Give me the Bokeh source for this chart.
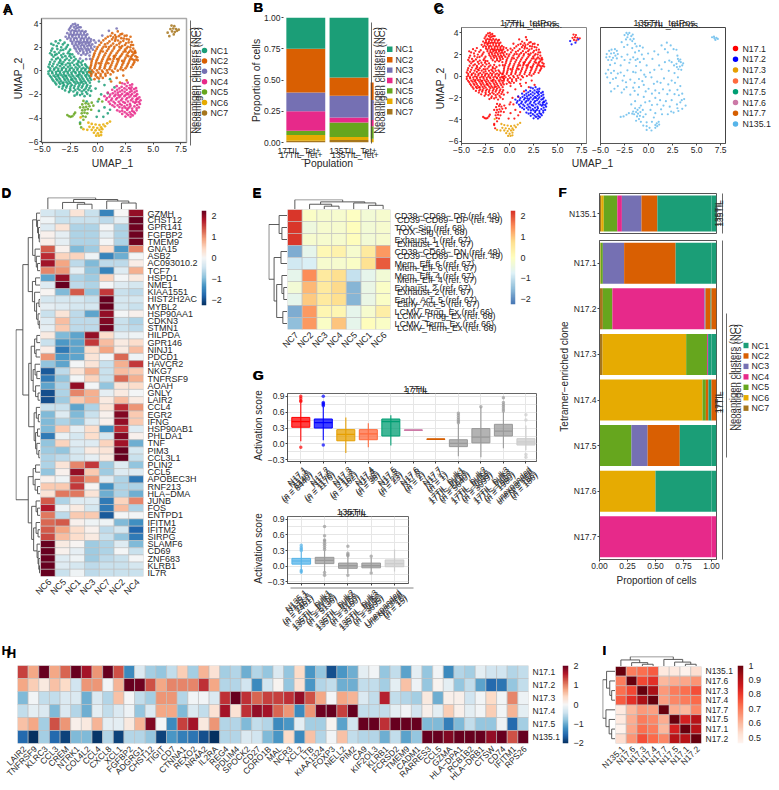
import math
import numpy as np
from bokeh.embed import file_html
from bokeh.resources import INLINE
from bokeh.layouts import column
from bokeh.models import ColumnDataSource, FactorRange, FixedTicker, Label, LinearColorMapper, Range1d
from bokeh.plotting import figure
from bokeh.transform import transform

FONT = "Liberation Sans"
NC_NAMES = ["NC1", "NC2", "NC3", "NC4", "NC5", "NC6", "NC7"]
NC_COLORS = ["#1B9E77", "#D95F02", "#7570B3", "#E7298A", "#66A61E", "#E6AB02", "#A6761D"]

# ---------- UMAP points ----------
NC1_POINTS = [(-4.2,2.3),(-3.8,2.5),(-3.4,2.6),(-3.0,2.4),(-2.7,2.2),(-4.1,1.9),(-3.7,2.1),(-3.3,2.0),(-2.9,1.9),(-2.5,1.8),
(-4.3,1.5),(-3.9,1.6),(-3.5,1.55),(-3.1,1.45),(-2.7,1.5),(-2.3,1.4),(-4.0,1.2),(-3.6,1.1),(-3.2,1.15),(-2.8,1.05),(-2.4,1.1),(-2.0,1.0),
(-4.3,0.75),(-3.9,0.8),(-3.5,0.7),(-3.1,0.75),(-2.7,0.65),(-2.3,0.7),(-1.9,0.6),(-1.5,0.7),(-4.45,0.35),(-4.1,0.4),(-3.75,0.3),(-3.4,0.4),
(-3.05,0.3),(-2.7,0.35),(-2.35,0.25),(-2.0,0.3),(-1.65,0.35),(-1.3,0.25),(-0.95,0.3),(-4.3,0.05),(-3.95,0.1),(-3.6,0.0),(-3.25,0.08),(-2.9,-0.02),
(-2.55,0.05),(-2.2,-0.03),(-1.85,0.07),(-1.5,-0.02),(-1.15,0.04),(-0.8,-0.03),(-4.45,-0.25),(-4.1,-0.2),(-3.75,-0.28),(-3.4,-0.2),(-3.05,-0.3),(-2.7,-0.22),
(-2.35,-0.3),(-2.0,-0.2),(-1.65,-0.28),(-1.3,-0.2),(-0.95,-0.3),(-0.6,-0.22),(-4.2,-0.55),(-3.85,-0.5),(-3.5,-0.58),(-3.15,-0.5),(-2.8,-0.6),(-2.45,-0.52),
(-2.1,-0.6),(-1.75,-0.5),(-1.4,-0.58),(-1.05,-0.5),(-0.7,-0.6),(-4.0,-0.85),(-3.65,-0.8),(-3.3,-0.88),(-2.95,-0.8),(-2.6,-0.9),(-2.25,-0.82),(-1.9,-0.9),
(-1.55,-0.8),(-1.2,-0.88),(-0.85,-0.82),(-3.75,-1.15),(-3.4,-1.1),(-3.05,-1.2),(-2.7,-1.12),(-2.35,-1.2),(-2.0,-1.1),(-1.65,-1.18),(-1.3,-1.12),(-0.95,-1.2),
(-3.2,-1.5),(-2.85,-1.42),(-2.5,-1.5),(-2.15,-1.45),(-1.8,-1.5),(-1.45,-1.42),(-1.1,-1.5),(-0.75,-1.45),(-2.6,-1.8),(-2.2,-1.75),(-1.85,-1.85),(-1.45,-1.75),
(-1.05,-1.8),(-0.6,-1.7),(-2.1,-2.1),(-1.6,-2.05),(-1.2,-2.15),(-0.7,-2.1),(0.1,-0.9),(0.6,-1.2),(1.1,-0.7),(1.5,-1.4),(-0.2,-1.5),(0.3,-2.0),
(0.9,-1.9),(0.0,-2.6),(0.6,-3.1),(0.1,-3.4),(0.9,-3.6),(0.5,-3.9),(-0.1,-3.9),(1.1,-3.3),(-1.6,-4.4),(-1.0,-2.6),(-3.85,1.35),(-3.35,1.75),(-2.55,1.25),(-3.4,0.95),
(-2.5,0.45),(-3.2,0.55),(-1.75,0.85),(-1.15,0.55),(-2.85,-0.42),(-3.55,-0.35),(-1.9,-0.42),(-2.4,-0.75),(-3.1,-1.0),(-1.55,-1.0)]
NC1_MORE = [(-4.0,2.2),(-3.55,2.35),(-3.15,2.25),(-2.8,2.05),(-4.2,1.72),(-3.65,1.85),(-3.12,1.78),(-2.62,1.65),(-4.15,1.36),(-3.72,1.42),(-3.3,1.32),(-2.93,1.25),(-2.5,1.42),(-2.14,1.2),
(-4.15,0.97),(-3.76,1.0),(-3.37,0.83),(-2.96,0.92),(-2.57,0.9),(-2.16,0.88),(-1.74,0.72),(-1.36,0.86),(-4.36,0.56),(-4.0,0.6),(-3.64,0.52),(-3.28,0.62),(-2.9,0.52),(-2.52,0.63),(-2.14,0.5),(-1.78,0.48),(-1.44,0.5),(-1.06,0.43),
(-4.3,0.22),(-3.92,0.2),(-3.56,0.18),(-3.22,0.22),(-2.86,0.16),(-2.52,0.2),(-2.17,0.12),(-1.82,0.2),(-1.47,0.17),(-1.1,0.16),(-0.77,0.2),(-4.45,-0.05),(-4.12,-0.08),(-3.78,-0.1),(-3.42,-0.06),(-3.08,-0.12),(-2.72,-0.08),(-2.38,-0.14),
(-2.03,-0.1),(-1.68,-0.1),(-1.33,-0.12),(-0.98,-0.13),(-0.62,-0.05),(-4.32,-0.42),(-3.98,-0.4),(-3.62,-0.45),(-3.28,-0.36),(-2.93,-0.44),(-2.58,-0.38),(-2.22,-0.44),(-1.75,-0.35),(-1.48,-0.43),(-1.13,-0.38),(-0.78,-0.42),
(-4.1,-0.72),(-3.74,-0.68),(-3.4,-0.72),(-3.03,-0.66),(-2.7,-0.74),(-2.34,-0.68),(-1.98,-0.72),(-1.64,-0.66),(-1.3,-0.72),(-0.95,-0.67),(-0.6,-0.75),(-3.85,-1.0),(-3.5,-0.98),(-3.18,-1.04),(-2.82,-0.97),(-2.48,-1.04),(-2.12,-0.96),
(-1.77,-1.03),(-1.42,-0.95),(-1.08,-1.02),(-0.72,-1.0),(-3.5,-1.35),(-3.15,-1.32),(-2.8,-1.28),(-2.46,-1.33),(-2.1,-1.28),(-1.74,-1.33),(-1.38,-1.28),(-1.02,-1.34),(-0.66,-1.28),(-2.95,-1.66),(-2.48,-1.65),(-2.03,-1.62),(-1.65,-1.62),(-1.25,-1.64),(-0.85,-1.63),(-1.9,-2.0),(-1.4,-1.95),(-0.95,-1.95)]
NC2_POINTS = [(1.3,3.2),(1.8,3.35),(2.2,3.15),(2.6,3.0),(0.9,2.9),(1.4,2.85),(1.9,2.95),(2.35,2.75),(2.8,2.65),(3.05,2.45),(0.5,2.6),(1.05,2.5),(1.55,2.55),(2.05,2.45),
(2.55,2.35),(3.0,2.2),(0.15,2.2),(0.65,2.25),(1.2,2.15),(1.7,2.2),(2.2,2.1),(2.7,2.05),(3.2,1.9),(-0.1,1.85),(0.4,1.9),(0.95,1.85),(1.45,1.9),(1.95,1.8),(2.45,1.8),(2.95,1.75),
(3.4,1.55),(-0.3,1.5),(0.2,1.55),(0.7,1.5),(1.2,1.55),(1.7,1.5),(2.2,1.45),(2.7,1.5),(3.2,1.4),(3.55,1.15),(-0.4,1.2),(0.05,1.2),(0.5,1.15),(1.0,1.22),(1.5,1.15),(2.0,1.2),
(2.5,1.12),(3.0,1.18),(3.45,0.95),(-0.55,0.85),(-0.1,0.9),(0.35,0.82),(0.85,0.9),(1.35,0.82),(1.85,0.88),(2.35,0.8),(2.85,0.87),(3.3,0.75),(3.6,0.9),(-0.6,0.5),(-0.2,0.55),(0.25,0.48),
(0.7,0.55),(1.2,0.48),(1.7,0.55),(2.2,0.5),(2.7,0.55),(3.15,0.5),(-0.7,0.2),(-0.3,0.22),(0.15,0.17),(0.6,0.22),(1.05,0.15),(1.55,0.2),(2.05,0.15),(2.5,0.22),(-0.75,-0.12),(-0.4,-0.1),
(0.05,-0.15),(0.45,-0.1),(0.9,-0.15),(1.4,-0.1),(-0.6,-0.42),(-0.2,-0.4),(0.25,-0.45),(0.7,-0.42),(-0.3,-0.7),(0.1,-0.65),(1.2,-0.9),(1.7,-0.6),(2.3,-0.4),(2.0,-1.0),(2.6,-0.8),
(1.6,2.7),(2.95,2.9),(2.5,1.65),(1.45,1.25),(0.95,0.65),(3.35,1.7),(2.2,0.85),(0.45,1.65),(0.75,2.05),(1.95,2.05),(2.75,1.25),(3.1,1.0),(1.75,1.0),(1.1,1.0),(0.1,0.65)]
NC2_MORE = [(1.55,3.05),(2.05,3.1),(2.42,2.98),(1.15,2.98),(1.65,2.88),(2.12,2.78),(2.6,2.7),(0.7,2.75),(1.28,2.68),(1.82,2.58),(2.3,2.55),(2.78,2.42),(3.18,2.2),(0.3,2.4),(0.88,2.35),(1.38,2.32),(1.93,2.32),(2.45,2.2),(2.92,2.0),
(-0.02,2.02),(0.52,2.05),(1.03,2.02),(1.5,2.05),(2.08,1.95),(2.6,1.92),(3.1,1.62),(-0.22,1.68),(0.28,1.72),(0.82,1.7),(1.32,1.72),(1.82,1.65),(2.32,1.62),(2.82,1.62),(3.3,1.55),(-0.35,1.35),(0.12,1.38),(0.6,1.32),(1.1,1.38),(1.6,1.32),(2.1,1.3),(2.6,1.32),(3.08,1.3),(3.4,1.25),
(-0.48,1.02),(-0.02,1.05),(0.42,0.98),(0.92,1.05),(1.42,1.02),(1.92,1.05),(2.42,0.96),(2.92,1.02),(3.25,0.92),(-0.58,0.68),(-0.15,0.72),(0.3,0.65),(0.78,0.72),(1.28,0.65),(1.78,0.72),(2.28,0.65),(2.78,0.7),(3.22,0.62),(-0.65,0.36),(-0.25,0.38),(0.2,0.32),(0.65,0.38),(1.12,0.32),(1.62,0.38),(2.12,0.32),(2.62,0.38),(3.02,0.32),
(-0.52,0.04),(-0.08,0.04),(0.38,0.02),(0.82,0.04),(1.28,0.02),(1.8,0.02),(2.28,0.06),(-0.58,-0.26),(-0.18,-0.26),(0.25,-0.28),(0.68,-0.26),(1.15,-0.3),(-0.05,-0.55),(0.45,-0.6)]
NC3_POINTS = [(-2.05,4.0),(-1.8,3.9),(-2.4,3.8),(-2.15,3.7),(-1.85,3.65),(-1.55,3.7),(-2.6,3.5),(-2.3,3.45),(-2.0,3.4),(-1.7,3.45),(-1.4,3.4),(-1.1,3.35),(-2.75,3.2),(-2.45,3.15),(-2.15,3.2),
(-1.85,3.12),(-1.55,3.15),(-1.25,3.1),(-0.95,3.1),(-2.9,2.9),(-2.6,2.85),(-2.3,2.9),(-2.0,2.82),(-1.7,2.88),(-1.4,2.8),(-1.1,2.85),(-0.8,2.8),(-2.45,2.55),(-2.15,2.6),(-1.85,2.52),(-1.55,2.58),
(-1.25,2.5),(-0.95,2.55),(-0.65,2.5),(-0.35,2.6),(-2.3,2.3),(-2.0,2.25),(-1.7,2.3),(-1.4,2.22),(-1.1,2.28),(-0.8,2.2),(-0.5,2.25),(-0.2,2.4),(-2.1,1.95),(-1.8,2.0),(-1.5,1.92),(-1.2,1.98),
(-0.9,1.9),(-0.6,1.95),(-0.3,2.05),(0.1,2.55),(0.4,3.0),(-1.9,1.65),(-1.6,1.7),(-1.3,1.62),(-1.0,1.68),(-0.7,1.6),(-1.5,1.35),(-1.1,1.38),(-0.75,1.3),(-1.6,1.05),(-1.05,1.0),(-0.7,1.02),
(-1.7,3.05),(-1.25,2.7),(-2.2,3.05),(-1.55,2.4),(-0.9,2.4),(1.7,3.6),(1.0,3.4)]
NC3_MORE = [(-2.25,3.95),(-1.98,3.82),(-2.5,3.65),(-2.0,3.58),(-1.7,3.7),(-2.45,3.33),(-2.12,3.38),(-1.85,3.32),(-1.55,3.32),(-1.22,3.28),(-2.58,3.05),(-2.32,3.02),(-2.0,3.05),(-1.42,3.0),(-1.08,3.0),(-2.75,2.72),(-2.45,2.72),(-2.15,2.75),(-1.88,2.72),(-1.55,2.72),(-0.95,2.68),(-0.62,2.68),
(-2.3,2.45),(-2.0,2.42),(-1.72,2.45),(-1.38,2.4),(-1.1,2.42),(-0.75,2.38),(-2.15,2.12),(-1.85,2.15),(-1.55,2.12),(-1.25,2.12),(-0.95,2.1),(-0.65,2.12),(-1.98,1.82),(-1.68,1.85),(-1.38,1.8),(-1.08,1.82),(-0.78,1.78),(-0.45,1.8),(-1.75,1.48),(-1.3,1.48),(-0.95,1.5)]
NC4_POINTS = [(2.2,-1.05),(2.7,-1.0),(3.1,-1.15),(1.7,-1.3),(2.15,-1.35),(2.6,-1.3),(3.05,-1.4),(3.45,-1.45),(1.3,-1.6),(1.75,-1.6),(2.2,-1.65),(2.6,-1.6),(3.05,-1.7),(3.5,-1.7),(0.9,-1.85),
(1.35,-1.9),(1.8,-1.85),(2.2,-1.95),(2.65,-1.9),(3.1,-1.95),(3.55,-1.98),(0.6,-2.15),(1.05,-2.2),(1.5,-2.15),(1.95,-2.22),(2.4,-2.15),(2.85,-2.22),(3.3,-2.15),(3.75,-2.25),(0.75,-2.45),(1.2,-2.5),
(1.65,-2.42),(2.1,-2.5),(2.55,-2.43),(3.0,-2.5),(3.45,-2.45),(3.85,-2.5),(1.1,-2.8),(1.55,-2.75),(2.0,-2.8),(2.45,-2.72),(2.9,-2.8),(3.35,-2.72),(3.8,-2.8),(1.5,-3.05),(1.95,-3.08),(2.4,-3.02),
(2.85,-3.1),(3.3,-3.02),(3.7,-3.1),(1.75,-3.35),(2.2,-3.38),(2.65,-3.32),(3.1,-3.4),(3.5,-3.35),(2.2,-3.65),(2.6,-3.62),(3.0,-3.68),(3.35,-3.6),(2.5,-3.88),(2.95,-3.9),(2.75,-2.0),(2.3,-2.65),
(3.2,-2.62),(1.85,-2.05),(2.95,-1.55),(2.5,-3.15),(3.55,-2.35),(2.15,-2.9),(3.1,-3.2)]
NC4_MORE = [(2.42,-1.12),(2.9,-1.22),(1.95,-1.48),(2.4,-1.48),(2.82,-1.45),(3.28,-1.55),(1.55,-1.75),(2.0,-1.75),(2.42,-1.78),(2.88,-1.8),(3.32,-1.82),(1.12,-2.02),(1.6,-2.02),(2.05,-2.08),(2.52,-2.03),(2.98,-2.08),(3.45,-2.1),(0.82,-2.3),(1.28,-2.35),(1.75,-2.3),(2.2,-2.35),(2.65,-2.3),(3.12,-2.35),(3.58,-2.38),
(0.98,-2.62),(1.42,-2.62),(1.88,-2.62),(2.72,-2.6),(3.48,-2.62),(3.7,-2.65),(1.32,-2.92),(1.78,-2.92),(2.65,-2.9),(2.95,-2.95),(3.55,-2.9),(2.22,-3.15),(2.7,-3.2),(3.5,-3.18),(1.98,-3.45),(2.42,-3.5),(2.88,-3.52),(3.25,-3.48),(2.75,-3.75),(3.15,-3.78)]
NC5_POINTS = [(-2.75,-3.75),(-2.6,-3.85),(-2.45,-3.9),(-2.3,-3.85),(-2.15,-3.7),(-2.05,-3.55),(-1.4,-2.85),(-1.1,-2.75),(-0.85,-2.8),(-0.55,-2.7),(-1.3,-3.1),(-1.05,-3.05),(-0.75,-3.0),(-0.4,-2.95),
(-1.4,-3.35),(-1.15,-3.3),(-0.9,-3.25),(-0.6,-3.3),(-1.45,-3.6),(-1.2,-3.55),(-0.95,-3.6),(-1.35,-3.85),(-1.1,-3.9),(-1.3,-4.15),(-1.6,-4.5),(-1.5,-4.8),(0.1,-2.4),(0.4,-2.6),(-1.3,-2.55),(-1.6,-3.1)]
NC6_POINTS = [(-0.85,-4.4),(-0.55,-4.5),(-0.2,-4.55),(0.15,-4.6),(0.5,-4.55),(0.85,-4.45),(1.1,-4.3),(-0.75,-4.75),(-0.4,-4.8),(-0.05,-4.85),(0.3,-4.8),(0.65,-4.7),(-0.55,-5.0),(-0.2,-5.05),(0.15,-5.0),
(0.4,-4.95),(-0.35,-5.25),(0.0,-5.3),(0.3,-5.2),(-0.15,-5.5),(0.1,-5.5),(0.3,-5.45),(-0.95,-5.0),(-1.3,-4.95),(-1.55,-3.95)]
NC7_POINTS = [(6.65,3.85),(6.9,3.8),(6.55,3.55),(6.8,3.6),(7.05,3.55),(7.3,3.5),(6.7,3.35),(6.95,3.3),(7.15,3.4),(6.85,3.1),(6.3,3.25),(6.45,2.95)]
N135_POINTS = [(-2.3,4.0),(-2.0,4.0),(-1.8,3.7),(-2.5,3.8),(-2.2,3.6),(-1.9,3.4),(-1.55,3.45),(-2.8,3.15),(-1.4,3.0),(-2.2,2.9),(-0.9,2.8),(-1.7,2.6),(-3.5,2.5),(-4.1,2.35),(-4.35,2.05),(-3.9,2.1),(-3.6,2.15),(-3.2,2.05),
(-4.4,1.75),(-4.05,1.8),(-3.7,1.7),(-3.3,1.65),(-2.8,1.8),(-2.2,2.0),(-1.4,2.2),(-1.0,2.35),(-0.7,2.0),(-1.15,1.6),(-1.6,1.75),(-0.9,1.3),(-1.3,0.95),(-2.0,1.25),(-2.9,1.0),(-3.5,1.2),(-4.0,1.05),(-4.2,0.6),
(-3.6,0.5),(-2.9,0.35),(-2.2,0.55),(-1.6,0.4),(-0.8,0.55),(-0.2,1.0),(0.4,1.6),(1.0,2.0),(1.7,2.5),(1.9,3.1),(2.3,2.85),(2.6,2.5),(3.0,1.9),(3.15,1.4),(3.35,1.3),(3.5,1.0),(3.25,0.9),(2.95,0.85),(3.1,0.65),(3.4,0.6),
(2.9,1.15),(2.4,1.3),(1.7,1.3),(1.1,1.0),(0.6,0.6),(2.1,0.5),(2.7,0.3),(3.05,-0.1),(2.4,-0.4),(1.6,-0.2),(0.9,-0.5),(0.3,-0.1),(-0.3,-0.05),(-1.0,-0.25),(-1.9,-0.3),(-2.7,-0.4),(-3.4,-0.15),(-4.3,-0.1),(-4.0,-0.6),
(-3.2,-0.9),(-2.3,-1.0),(-1.6,-1.05),(-1.0,-1.0),(-0.5,-0.8),(0.0,-1.15),(0.7,-1.3),(1.5,-1.2),(2.2,-1.3),(3.0,-1.25),(3.5,-1.6),(3.7,-2.1),(3.3,-2.4),(3.85,-2.7),(3.5,-3.0),(3.1,-3.2),(2.6,-3.35),(2.2,-2.8),(1.8,-2.3),
(1.2,-2.2),(0.7,-2.0),(0.1,-2.3),(-0.5,-1.9),(-1.1,-1.7),(-1.9,-1.7),(-3.9,-1.4),(-2.8,-1.5),(-1.8,-2.6),(-0.8,-2.7),(-1.4,-2.95),(-1.15,-3.1),(-0.95,-2.9),(-1.3,-3.3),(-1.1,-3.45),(-0.85,-3.3),(-1.5,-3.5),(-1.2,-3.7),
(-0.9,-3.65),(-1.6,-3.25),(-2.9,-3.75),(-2.6,-3.7),(-2.3,-3.55),(-2.05,-3.4),(-1.3,-4.1),(-0.8,-4.2),(-0.3,-3.5),(0.2,-3.1),(0.7,-3.4),(1.4,-3.5),(2.0,-3.5),(0.85,-4.35),(0.9,-4.6),(1.1,-4.45),(0.7,-4.5),(-0.2,-4.6),(0.3,-5.0),(-0.2,-4.95),
(6.6,3.6),(6.85,3.5),(7.05,3.55),(6.95,3.35),(7.2,3.45),(6.8,3.65)]
N135_MORE = [(-2.15,3.85),(-1.65,3.85),(-2.35,3.4),(-1.7,3.25),(-2.55,2.7),(-1.25,2.75),(-0.6,2.65),(-3.85,2.45),(-3.3,2.35),(-4.2,1.5),(-3.85,1.5),(-3.45,1.9),(-2.5,1.5),(-1.9,1.55),(-1.35,1.5),(-0.5,1.6),(-0.05,2.1),(0.6,2.3),(1.35,2.85),(2.0,2.2),(2.9,2.45),(3.05,1.6),(3.3,1.55),(3.6,1.2),(2.65,1.0),(2.15,1.45),
(1.35,0.65),(0.15,0.35),(-0.45,0.15),(-1.35,0.35),(-2.55,0.05),(-3.2,0.25),(-3.9,0.3),(-4.45,0.25),(-3.7,-0.25),(-2.35,-0.55),(-1.45,-0.6),(-0.65,-0.45),(0.55,-0.7),(1.25,-0.6),(2.05,-0.75),(2.75,-0.6),(3.3,-0.9),(-3.55,-1.15),(-2.55,-1.2),(-1.45,-1.35),(-0.3,-1.4),(0.35,-1.6),(1.1,-1.55),(1.95,-1.65),(2.7,-1.65),(3.15,-1.75),(3.45,-2.2),(2.95,-2.6),
(2.4,-2.2),(1.55,-2.7),(0.9,-2.6),(0.35,-2.65),(-0.35,-2.4),(-1.4,-2.3),(-0.6,-3.1),(-0.55,-3.75),(-1.7,-3.45),(-1.0,-3.95),(-0.2,-4.25),(0.35,-4.2),(0.55,-3.8),(1.3,-3.05),(2.35,-3.25),(3.0,-2.95),(1.05,-4.2),(0.7,-4.75),(0.1,-4.75),(-0.55,-4.55)]

# ---------- Panel B ----------
B_NC7 = [0.015, 0.020]; B_NC6 = [0.045, 0.025]; B_NC5 = [0.035, 0.115]; B_NC4 = [0.155, 0.040]
B_NC3 = [0.150, 0.175]; B_NC2 = [0.350, 0.145]; B_NC1 = [0.250, 0.480]
B_STRIP = [0.03, 0.10, 0.05, 0.16, 0.14]   # the narrow remnant at the right of the bars (NC6..NC2)
# ---------- Panel C legend ----------
CLONES = ["N17.1","N17.2","N17.3","N17.4","N17.5","N17.6","N17.7","N135.1"]
CLONE_COLORS = ["#FF0000","#0000FF","#E69F00","#FF6A3D","#009E73","#CC79A7","#D55E00","#56B4E9"]

# ---------- Panel D ----------
D_COLS = ["NC6","NC5","NC1","NC3","NC7","NC2","NC4"]
D_GENES = ["GZMH","CHST12","GPR141","FGFBP2","TMEM9","GNA15","ASB2","AC093010.2","TCF7","HSPD1","NME1","KIAA1551","HIST2H2AC","MYBL2","HSP90AA1","CDKN3","STMN1","HILPDA","GPR146","NINJ1","PDCD1","HAVCR2","NKG7","TNFRSF9","AOAH","GNLY","LAIR2","CCL4","EGR2","IFNG","HSP90AB1","PHLDA1","TNF","PIM3","CCL3L1","PLIN2","CCL5","APOBEC3H","RNF213","HLA\u2212DMA","JUNB","FOS","ENTPD1","IFITM1","IFITM2","SIRPG","SLAMF6","CD69","ZNF683","KLRB1","IL7R"]
D_VALUES = [[-.4,-.5,.3,-.5,-1.5,0,2.0],[-.1,-.5,-.5,-.5,-.6,-.2,2.3],[-.3,.3,-.7,-.7,-.05,-.7,2.2],[.1,-.2,-.7,-.7,-.2,-.7,2.2],[.15,-.2,-.7,-.7,-.05,-.7,2.2],
[1.4,.1,-1,-.8,.4,-1.3,1.1],[1.7,.5,.5,-.1,-1.5,-1.1,-.05],[1.9,.9,-.6,-1,-.6,-.6,.15],[1.1,1.0,-.2,-.9,-1.5,-.3,.8],[-1.2,2.0,-.7,-.8,.5,-.05,.2],
[-.3,2.4,-.6,-.7,-.05,-.3,-.4],[.05,-1,1.4,-.9,1.6,-.5,-.6],[-.4,-.4,-.4,-.5,2.4,-.4,-.4],[-.2,-.3,-.4,-.4,2.4,-.4,-.5],[-.5,.3,-.6,-1.2,2,-.05,.1],
[-.3,.7,-.6,-.6,2.1,-.5,-.7],[-.2,.6,-.6,-.6,2.2,-.5,-.6],[.2,-1,-1.2,2,.4,-.2,-.1],[-.5,-1.3,-1.2,1.6,.7,.2,.4],[.15,-1.6,-1.2,.4,.9,.2,.7],
[1,-1.3,-1.2,.3,-.05,1.3,-.1],[-.9,-1.2,-.05,.3,-.5,.8,1.6],[-1.9,-.6,.3,.8,-.5,.7,.6],[-1.6,-.9,-.05,.5,-.5,1.3,.8],[-1.2,-.7,2,-.05,-.9,.3,.4],
[-2,-.7,1.1,.8,-.2,.2,-.05],[-2,-.8,.6,.8,.2,.7,.2],[-.5,-.5,-1.2,-.7,.3,1.7,1.0],[-1,-.3,-1,-.5,.1,2.1,.6],[-1,-.7,-.9,-.3,.1,2,.6],
[-1,.6,-.2,.4,-1.4,1.7,-.3],[-1.6,-.15,-.4,.4,-.4,2.1,.1],[-.9,.5,-.3,-.3,.5,1.9,-1.1],[-.8,-.9,-.4,.2,.3,2.3,-.4],[-.7,-.6,-.4,-.2,.2,2.3,-.5],
[-.7,.3,1.1,1.6,-.8,-.3,-.9],[-.9,.1,2,.6,-.8,-.3,-.3],[.1,-.1,1.5,1,-.3,-.7,-1.6],[.6,.6,1.6,.05,-1.4,-.7,-.7],[.3,1.2,1.2,.3,-1.1,-.7,-1.1],
[1.4,-.7,-.3,-.3,-1.6,.5,1.1],[1.8,-.1,.2,-.4,-1.6,.7,-.7],[1.2,-.6,.6,.6,-1.9,-.05,-.05],[1.3,1.4,.1,-.1,-.1,-1,-1.4],[1.4,.9,.4,.1,-.6,-.4,-1.8],
[1.5,.7,.4,.2,-.5,-.9,-1.6],[2.3,.2,.05,-.8,-.7,-.3,-1],[2.3,.1,-.2,-.8,-.7,-.05,-.5],[2.4,-.3,-.1,-.8,-.6,-.5,-.05],[2.4,-.3,-.4,-.6,-.5,-.5,-.4],[2.4,-.5,-.1,-.6,-.5,-.5,-.5]]
L = 0
D_ROW_TREE = (1.0,(.72,(.5,(.32,(.16,L,(.12,L,(.08,L,(.05,L,L)))),(.22,L,(.17,L,(.12,L,L)))),(.33,(.2,L,L),(.24,L,(.16,(.06,L,L),(.1,L,(.05,L,L)))))),
 (.48,(.38,(.24,(.15,L,L),(.18,L,L)),(.3,(.22,L,(.15,L,L)),(.2,L,(.1,L,L)))),(.26,(.17,L,(.09,L,L)),(.2,(.12,L,L),(.15,L,(.07,L,L)))))),
 (.5,(.3,(.2,L,L),(.22,L,(.12,L,L))),(.36,(.18,L,(.12,L,L)),(.28,(.18,L,(.1,L,L)),(.14,L,(.1,L,(.07,L,(.04,L,L))))))))
D_COL_TREE = (1,L,(.85,(.6,L,(.45,L,L)),(.72,L,(.55,L,L))))

# ---------- Panel E ----------
E_COLS = ["NC7","NC2","NC3","NC4","NC5","NC1","NC6"]
E_SETS = ["CD39\u2212CD69\u2212 DP (ref. 49)","TOX\u2212Sig (ref. 68)","Exhaust_1 (ref. 67)","CD39\u2212CD69\u2212 DN (ref. 49)","Mem_Eff_6 (ref. 67)","Mem_Eff_4 (ref. 67)","Exhaust_2 (ref. 67)","Early_Act_5 (ref. 67)","LCMV_Prog_Ex (ref. 66)","LCMV_Term_Ex (ref. 66)"]
E_VALUES = [[2.2,-.1,-.2,-.2,-.05,-.3,-.2],[2.2,-.4,-.2,-.2,.05,-.3,-.2],[2.2,-.2,-.2,-.2,.05,-.3,-.2],[-1.7,-.6,.15,.3,-.2,.5,1.4],[-.9,-.8,-.2,-.2,-.1,.7,1.9],
[-.6,1.5,.5,.75,-1,-.6,-.3],[-.3,1.1,.5,.8,-1.6,-.5,-.1],[-.6,.95,.5,.75,-1.6,-.5,-.1],[-1.7,1.4,.2,.2,-.6,-.2,.4],[-1.5,1.4,-.1,1,-.6,.05,-.1]]
E_ROW_TREE = (1,(.45,L,(.3,L,L)),(.72,(.35,L,L),(.58,(.3,L,(.2,L,L)),(.25,L,L))))
E_COL_TREE = (1,L,(.8,(.58,L,(.4,L,L)),(.7,L,(.48,L,L))))

# ---------- Panel F (left to right: NC7, NC6, NC5, NC4, NC3, NC2, NC1) ----------
F_ORDER = [6,5,4,3,2,1,0]
F_N135_1 = [.015,.023,.121,.041,.175,.142,.483]
F_N17_1 = [.006,.004,.02,0,.19,.46,.32]
F_N17_2 = [.03,0,.085,.822,.01,.045,.008]
F_N17_3 = [.027,.747,.186,.008,.002,0,.03]
F_N17_4 = [0,.92,.03,0,0,.023,.027]
F_N17_5 = [0,0,.285,0,.145,.287,.283]
F_N17_6 = [0,.5,0,0,0,0,.5]
F_N17_7 = [0,0,0,1,0,0,0]
F_CLONES = ["N17.1","N17.2","N17.3","N17.4","N17.5","N17.6","N17.7"]
F_ROWS = [F_N17_1,F_N17_2,F_N17_3,F_N17_4,F_N17_5,F_N17_6,F_N17_7]
F_STRIP = [0,1,0,1,0,0,3]   # cluster index of the strip at the right of each bar

# ---------- Panel G (low, q1, median, q3, high) ----------
G1_NAMES = ["N17.1","N17.2","N17.3","N17.4","N17.5","N17.6","N17.7","17TIL_bulk1","17TIL_bulk2","17TIL_bulk3","unexpanded"]
G1_COUNTS = ["(n = 8440)","(n = 1176)","(n = 162)","(n = 38)","(n = 23)","(n = 2)","(n = 1)","(n = 5640)","(n = 3099)","(n = 1980)","(n = 186)"]
G1_LOW = [.05,.07,-.17,-.06,-.03,.26,.09,-.23,-.25,-.08,-.12]
G1_Q1 = [.315,.30,.06,.08,.15,.255,.085,-.05,.02,.15,-.02]
G1_MED = [.42,.40,.18,.19,.42,.26,.09,.01,.13,.24,.04]
G1_Q3 = [.50,.47,.27,.27,.47,.265,.095,.08,.29,.37,.10]
G1_HIGH = [.78,.70,.50,.39,.54,.26,.09,.38,.69,.60,.35]
G1_COLORS = ["#FF0000","#0000FF","#E69F00","#FF6A3D","#009E73","#CC79A7","#D55E00","#999999","#999999","#999999","#CCCCCC"]
G1_OUT = [[.80,.82,.86,.9,-.06],[.72,.74,.76,.78,.9,-.02],[],[],[],[],[],[.4,.43,.46,.5,.54,.58],[.7],[.62,.66,.7,.74,.78,.87],[.45,.55,-.2,-.25]]
G2_NAMES = ["N135.1","135TIL_bulk1","135TIL_bulk2","135TIL_bulk3","Unexpanded"]
G2_COUNTS = ["(n = 2461)","(n = 5136)","(n = 3160)","(n = 3695)","(n = 15)"]
G2_LOW = [-.14,-.1,-.14,-.1,-.1]
G2_Q1 = [.04,.05,-.04,-.03,-.01]
G2_MED = [.10,.11,.01,.01,.05]
G2_Q3 = [.15,.17,.06,.06,.12]
G2_HIGH = [.28,.3,.19,.16,.32]
G2_COLORS = ["#56B4E9","#999999","#999999","#999999","#CCCCCC"]
G2_OUT = [[.3,.33,.36,.4,-.08,-.11],[.32,.36,.4,.44,.48,.5,.58,.76,-.12,-.17],[.2,.22,.25,.38,-.17],[.19,-.13],[]]

# ---------- Panel H ----------
H_GENES = ["LAIR2","TNFRSF9","KLRC3","CCL3","CREM","NTRK1","COL4L2","CCL4","CXCL8","XCL1","FGFBP2","ADGRG1","CHST12","TIGIT","CD7","CTNNA1","REXO2","NR4A2","IL2RA","REG4","PDLIM4","SPOCK2","CD27","CORO1B","MAL","NCR3","XCL2","LTB","KIAA1324","FOXP3","NELL2","PIM2","CA9","KIF2OL3","KLRB1","FCRSD2","TMEM9","CADM1","RARRES3","CCL5","GZMA","HLA\u2212DPA1","RCB1B2","HLA\u2212DRB1","CTSW","CD74","IFITM1","RPS26"]
H_CLONES = ["N17.1","N17.2","N17.3","N17.4","N17.5","N135.1"]
H_N17_1 = [1.4,.8,2.4,.8,1.2,2.4,1.7,.9,2.4,1.3,-1.3,-.3,-.7,-.8,-.5,.5,-.7,.7,.3,-.7,-.6,-1,-.6,-.8,-.3,-.8,.4,-1.2,-.8,-1.8,-1.2,-1,-.2,-.05,-.8,-.5,-1.1,-.2,-.8,-.05,-1.3,-.6,-.7,-.2,-.4,-.4,-.6,-.5]
H_N17_2 = [.8,.5,.2,.6,.4,-.4,.9,.9,-.05,.7,2.1,2.0,1.3,.8,1,1,1,1.5,.8,-.6,-.6,-.4,-1.3,-.4,.05,-.8,.3,-1.2,-.6,-.5,-1,-1,-.5,-.5,-.7,-.2,.6,-.1,-.8,.05,-.2,-.8,-.5,-1.1,-1.6,-1.5,-.8,-.5]
H_N17_3 = [-.9,-.05,-.5,-.5,-.3,-.3,-1,-.3,-.6,.6,-.03,-.5,-.7,.9,.9,-.6,-.05,-.05,-.3,1.5,2.4,1.5,1.2,1.4,1.4,1.5,1.8,1.3,.8,-.02,.8,.7,-.3,-.5,1.6,-.5,-.6,-.7,.2,-1,.1,.1,-.4,-.05,.4,-.05,1.0,-.1]
H_N17_4 = [-.5,-.2,-.3,-.9,-.3,-.6,-1,-.2,-.5,-.3,-.1,-.8,-.3,.8,.8,-.9,-.3,-.5,.3,1.7,.3,1.5,1.8,1.7,1.2,.9,-1.3,.9,2.0,2.1,1.4,2.2,-.5,-.5,-.5,-.2,-.05,-.4,.1,-.2,.5,.1,-.2,-.05,.5,-.05,.7,-.2]
H_N17_5 = [.6,.8,-.7,1.3,.9,.1,.2,.7,-.2,-.2,.2,.7,1.9,-.02,-1.3,1.4,1.7,.2,.9,-.6,-.6,-.9,-.5,-.6,-1.3,-1.2,-.2,-.7,-.7,.05,-1.1,-.4,2.4,2.4,1.5,2.4,2.1,2.4,-.9,-.9,-1.4,-.9,-.5,-.8,-.8,-.1,-1.6,-.7]
H_N135_1 = [-1.6,-2.2,-.7,-1.6,-1.9,-.9,-.9,-2.0,-.6,-1.9,-.6,-.6,-.8,-1.9,-1.2,-1.4,-1.5,-1.8,-2.2,-.6,-.6,-.3,-.4,-.9,-1.2,.4,-1.3,.6,-.6,-.05,.6,-.5,-.6,-.6,-1.0,-.5,-1.1,-.8,2.2,2.2,1.9,2.3,2.4,2.1,1.8,2.1,1.3,2.4]
H_VALUES = [H_N17_1,H_N17_2,H_N17_3,H_N17_4,H_N17_5,H_N135_1]

# ---------- Panel I ----------
I_NAMES = ["N135.1","N17.6","N17.3","N17.4","N17.7","N17.5","N17.1","N17.2"]
I_VALUES = [[1,.7,.72,.75,.5,.5,.47,.53],[.7,1,.78,.82,.6,.62,.63,.66],[.72,.78,1,.92,.65,.7,.72,.77],[.75,.82,.92,1,.64,.68,.7,.73],
[.5,.6,.65,.64,1,.62,.6,.68],[.5,.62,.7,.68,.62,1,.85,.9],[.47,.63,.72,.7,.6,.85,1,.9],[.53,.66,.77,.73,.68,.9,.9,1]]
I_TREE = (1,(.7,L,(.45,L,(.3,L,L))),(.75,L,(.5,L,(.3,L,L))))

RDBU = ['#053061','#2166ac','#4393c3','#92c5de','#d1e5f0','#f7f7f7','#fddbc7','#f4a582','#d6604d','#b2182b','#67001f']
RDYLBU = ['#4575B4','#91BFDB','#E0F3F8','#FFFFBF','#FEE090','#FC8D59','#D73027']
REDS = ['#FFF5F0','#FEE0D2','#FCBBA1','#FC9272','#FB6A4A','#EF3B2C','#CB181D','#A50F15','#67000D']

def ramp(cols, n=256):
    rgb = np.array([[int(c[i:i+2],16) for i in (1,3,5)] for c in cols], float)
    t = np.linspace(0, len(cols)-1, n)
    out = [np.interp(t, range(len(cols)), rgb[:,k]) for k in range(3)]
    return ["#%02x%02x%02x" % (int(a),int(b),int(c)) for a,b,c in zip(*out)]

figs = []
rotated = []

def panel(x0, y0, x1, y1, xr, yr, L=45, R=6, T=6, B=22, **kw):
    x0, y0, x1, y1 = round(x0), round(y0), round(x1), round(y1)
    p = figure(frame_width=x1-x0, frame_height=y1-y0, x_range=xr, y_range=yr, output_backend="svg", toolbar_location=None,
               min_border_left=L, min_border_right=R, min_border_top=T, min_border_bottom=B, frame_align=False,
               background_fill_alpha=0, border_fill_alpha=0, outline_line_color=None,
               styles={"position":"absolute","left":f"{x0-L}px","top":f"{y0-T}px"}, **kw)
    p.grid.visible = False
    figs.append(p)
    return p

def style_axis(ax, size="8.5px"):
    ax.major_label_text_font = FONT
    ax.major_label_text_font_size = size
    ax.major_label_text_color = "#262626"
    ax.major_tick_in = 0
    ax.major_tick_out = 2
    ax.minor_tick_line_color = None
    ax.axis_line_color = "#555555"
    ax.major_tick_line_color = "#444444"
    ax.major_label_standoff = 1

def ticks(ax, vals, labels):
    ax.ticker = FixedTicker(ticks=list(vals))
    ax.major_label_overrides = {float(v): s for v, s in zip(vals, labels)}

def heat(x0, y0, x1, y1, cols, rows, vals, mapper, R=60, L=1, size=8.5):
    p = panel(x0, y0, x1, y1, FactorRange(*cols), FactorRange(*rows[::-1]), L=L, R=R, T=1, B=1, y_axis_location="right", x_axis_location=None)
    xs, ys, vs = [], [], []
    for r, row in zip(rows, vals):
        for c, v in zip(cols, row):
            xs.append(c); ys.append(r); vs.append(v)
    p.rect(x="x", y="y", width=1, height=1, source=ColumnDataSource(dict(x=xs, y=ys, v=vs)),
           fill_color=transform("v", mapper), line_color="#bdbdbd", line_width=0.6)
    ax = p.yaxis[0]
    style_axis(ax, f"{size}px")
    ax.major_tick_line_color = None
    ax.axis_line_color = None
    ax.major_label_standoff = 2
    w = (x1-x0)/len(cols)
    for i, c in enumerate(cols):
        rotated.append((x0+(i+.5)*w+2, y1+4, c, size))
    return p

def tree_segments(tree):
    segs = []
    counter = [0]
    def walk(t):
        if t == 0:
            counter[0] += 1
            return counter[0]-0.5, 0.0
        h, a, b = t
        pa, ha = walk(a)
        pb, hb = walk(b)
        segs.append((pa, ha, pa, h)); segs.append((pb, hb, pb, h)); segs.append((pa, h, pb, h))
        return (pa+pb)/2, h
    walk(tree)
    return segs, counter[0]

def dendro(x0, y0, x1, y1, tree, side):
    segs, n = tree_segments(tree)
    if side == "left":
        p = panel(x0, y0, x1, y1, Range1d(1.02, 0), Range1d(n, 0), L=0, R=0, T=0, B=0, x_axis_location=None, y_axis_location=None)
        p.segment([s[1] for s in segs], [s[0] for s in segs], [s[3] for s in segs], [s[2] for s in segs], line_color="#4a4a4a", line_width=0.9)
    else:
        p = panel(x0, y0, x1, y1, Range1d(0, n), Range1d(0, 1.02), L=0, R=0, T=0, B=0, x_axis_location=None, y_axis_location=None)
        p.segment([s[0] for s in segs], [s[1] for s in segs], [s[2] for s in segs], [s[3] for s in segs], line_color="#4a4a4a", line_width=0.9)

def colorbar(x0, y0, x1, y1, lo, hi, mapper, tick_vals, tick_labels):
    p = panel(x0, y0, x1, y1, Range1d(0, 1), Range1d(lo, hi), L=0, R=24, T=7, B=7, y_axis_location="right", x_axis_location=None)
    p.image(image=[np.linspace(lo, hi, 128).reshape(-1, 1)], x=0, y=lo, dw=1, dh=hi-lo, color_mapper=mapper)
    ax = p.yaxis[0]
    style_axis(ax, "9px")
    ax.axis_line_color = None
    ax.major_tick_line_color = None
    ax.major_label_standoff = 3
    ticks(ax, tick_vals, tick_labels)

def umap(x0, y0, x1, y1, xr, yr, xl, yl):
    p = panel(x0, y0, x1, y1, Range1d(*xr), Range1d(*yr), L=30, R=10, T=3, B=18)
    style_axis(p.xaxis[0]); style_axis(p.yaxis[0])
    ticks(p.xaxis[0], [-5,-2.5,0,2.5,5,7.5], ["\u22125.0","\u22122.5","0.0","2.5","5.0","7.5"]) if xl else None
    ticks(p.yaxis[0], [-6,-4,-2,0,2,4], ["\u22126","\u22124","\u22122","0","2","4"]) if yl else None
    if not yl:
        p.yaxis[0].major_label_text_color = None
        p.yaxis[0].major_tick_line_color = None
        p.yaxis[0].ticker = FixedTicker(ticks=[])
    return p

def pts(points, color, p, size, alpha=0.85):
    p.scatter([a for a, b in points], [b for a, b in points], size=size, color=color, line_color=None, alpha=alpha)

# ---------- A ----------
pa = umap(41, 18, 186, 142, (-5.08, 8.0), (-6.08, 4.45), True, True)
pa.outline_line_color = "#aaaaaa"; pa.outline_line_width = 1.5
A_SETS = [NC1_POINTS+NC1_MORE, NC2_POINTS+NC2_MORE, NC3_POINTS+NC3_MORE, NC4_POINTS+NC4_MORE, NC5_POINTS, NC6_POINTS, NC7_POINTS]
for pts_i, col in zip(A_SETS, NC_COLORS):
    pts(pts_i, col, pa, 2.7)

# ---------- B ----------
pb = panel(283, 17, 374, 142, Range1d(.484, 2.59), Range1d(0, 1.0), L=35, R=4, T=4, B=10)
bottoms = [0, 0]
for vals, col in zip([B_NC7, B_NC6, B_NC5, B_NC4, B_NC3, B_NC2, B_NC1], NC_COLORS[::-1]):
    pb.vbar(x=[1, 2], bottom=bottoms, top=[b+v for b, v in zip(bottoms, vals)], width=.9, color=col, line_color=None)
    bottoms = [b+v for b, v in zip(bottoms, vals)]
sb = 0
for v, col in zip(B_STRIP, NC_COLORS[5:0:-1]):
    pb.quad(left=[2.5], right=[2.57], bottom=[sb], top=[sb+v], color=col, line_color=None)
    sb += v
style_axis(pb.yaxis[0]); style_axis(pb.xaxis[0])
ticks(pb.yaxis[0], [0, .25, .5, .75, 1], ["0.00", "0.25", "0.50", "0.75", "1.00"])
pb.yaxis[0].axis_line_color = None
pb.xaxis[0].ticker = FixedTicker(ticks=[]); pb.xaxis[0].axis_line_color = None
pb.xaxis[0].major_label_text_color = None

# ---------- C ----------
pc1 = umap(461, 27, 586, 143, (-5.0, 8.0), (-6.2, 4.5), True, True)
pc1.outline_line_color = "#888888"; pc1.outline_line_width = 1
for pl in (A_SETS[0], A_SETS[1], A_SETS[2], NC5_POINTS):
    pts(pl, CLONE_COLORS[0], pc1, 2.3)
pts(A_SETS[3], CLONE_COLORS[1], pc1, 2.3)
pts(NC6_POINTS, CLONE_COLORS[2], pc1, 2.3)
pts(NC7_POINTS[:8], CLONE_COLORS[0], pc1, 2.3)
pts(NC7_POINTS[8:], CLONE_COLORS[1], pc1, 2.3)
pc2 = umap(600, 27, 725, 143, (-5.0, 8.0), (-6.2, 4.5), True, False)
pc2.outline_line_color = "#444444"; pc2.outline_line_width = 1
pts(N135_POINTS+N135_MORE, CLONE_COLORS[7], pc2, 2.2, alpha=.75)

# ---------- D ----------
m_d = LinearColorMapper(palette=ramp(RDBU), low=-2.27, high=2.27)
dendro(15, 209, 40, 576, D_ROW_TREE, "left")
dendro(40, 197, 143, 209, D_COL_TREE, "top")
heat(40, 209, 143, 576, D_COLS, D_GENES, D_VALUES, m_d, R=58, size=9)
colorbar(201, 210, 206, 305, -2.27, 2.27, m_d, [-2, -1, 0, 1, 2], ["\u22122", "\u22121", "0", "1", "2"])

# ---------- E ----------
m_e = LinearColorMapper(palette=ramp(RDYLBU), low=-2.27, high=2.27)
dendro(268, 209, 287, 329, E_ROW_TREE, "left")
dendro(287, 198, 390, 209, E_COL_TREE, "top")
heat(287, 209, 390, 329, E_COLS, E_SETS, E_VALUES, m_e, R=112, size=9)
colorbar(510, 210, 515, 304, -2.27, 2.27, m_e, [-2, -1, 0, 1, 2], ["\u22122", "\u22121", "0", "1", "2"])

# ---------- F ----------
def stacked(p, names, rows):
    for name, row in zip(names, rows):
        left = 0
        for k, i in enumerate(F_ORDER):
            if row[k] > 0:
                p.hbar(y=[name], left=[left], right=[left+row[k]], height=.9, color=NC_COLORS[i], line_color=None)
            left += row[k]
pf0 = panel(599, 193, 716, 233, Range1d(0, 1.045), FactorRange("N135.1"), L=36, R=6, T=2, B=2)
stacked(pf0, ["N135.1"], [F_N135_1])
pf0.hbar(y=["N135.1"], left=[1.0], right=[1.045], height=.9, color=NC_COLORS[0], line_color=None)
pf1 = panel(599, 240, 716, 559, Range1d(0, 1.045), FactorRange(*F_CLONES[::-1]), L=36, R=6, T=2, B=20)
stacked(pf1, F_CLONES, F_ROWS)
for name, s in zip(F_CLONES, F_STRIP):
    pf1.hbar(y=[name], left=[1.0], right=[1.045], height=.9, color=NC_COLORS[s], line_color=None)
for p in (pf0, pf1):
    p.outline_line_color = "#555555"; p.outline_line_width = 1
    style_axis(p.yaxis[0], "8.5px"); style_axis(p.xaxis[0], "8.5px")
ticks(pf1.xaxis[0], [0, .25, .5, .75, 1], ["0.00", "0.25", "0.50", "0.75", "1.00"])
pf0.xaxis[0].visible = False

# ---------- G ----------
def boxes(x0, y0, x1, y1, xr, yr, low, q1, med, q3, high, colors, out):
    p = panel(x0, y0, x1, y1, Range1d(*xr), Range1d(*yr), L=32, R=3, T=3, B=6)
    n = len(low)
    xs = list(range(1, n+1))
    p.grid.visible = True
    p.grid.grid_line_color = "#e6e6e6"
    p.grid.grid_line_width = 1
    p.xgrid.ticker = FixedTicker(ticks=xs)
    p.ygrid.ticker = FixedTicker(ticks=[-.3, -.15, 0, .15, .3, .45, .6, .75, .9])
    p.segment(xs, low, xs, high, line_color=colors, line_width=1.2, alpha=.9)
    p.quad(left=[x-.4 for x in xs], right=[x+.4 for x in xs], bottom=q1, top=q3, fill_color=colors, fill_alpha=.75, line_color=colors)
    p.segment([x-.4 for x in xs], med, [x+.4 for x in xs], med, line_color=colors, line_width=1.2)
    for x, o, c in zip(xs, out, colors):
        if o:
            p.scatter([x]*len(o), o, size=3.5, color=c, alpha=.7, line_color=None)
    style_axis(p.yaxis[0]); style_axis(p.xaxis[0])
    ticks(p.yaxis[0], [-.3, 0, .3, .6, .9], ["\u22120.3", "0.0", "0.3", "0.6", "0.9"])
    p.xaxis[0].ticker = FixedTicker(ticks=xs)
    p.xaxis[0].major_label_text_color = None
    p.outline_line_color = "#666666"; p.outline_line_width = 1
    return p
boxes(287, 393, 536, 461, (.41, 11.47), (-.33, .95), G1_LOW, G1_Q1, G1_MED, G1_Q3, G1_HIGH, G1_COLORS, G1_OUT)
boxes(287, 516, 408, 583, (.41, 5.6), (-.33, .95), G2_LOW, G2_Q1, G2_MED, G2_Q3, G2_HIGH, G2_COLORS, G2_OUT)

# ---------- H ----------
m_h = LinearColorMapper(palette=ramp(RDBU), low=-2.05, high=2.05)
heat(17, 665, 528, 743, H_GENES, H_CLONES, H_VALUES, m_h, R=34, L=2, size=8.5)
colorbar(562, 665, 568, 743, -2.05, 2.05, m_h, [-2, -1, 0, 1, 2], ["\u22122", "\u22121", "0", "1", "2"])

# ---------- I ----------
m_i = LinearColorMapper(palette=ramp(REDS), low=.46, high=1.0)
dendro(602, 666, 615, 743, I_TREE, "left")
dendro(615, 655, 701, 666, I_TREE, "top")
heat(615, 666, 701, 743, I_NAMES, I_NAMES, I_VALUES, m_i, R=34, size=8.5)
colorbar(737, 665, 743, 743, .46, 1.0, m_i, [.5, .6, .7, .8, .9, 1], ["0.5", "0.6", "0.7", "0.8", "0.9", "1"])

# ---------- overlays: page-pixel texts and keys ----------
def overlay(left, top):
    o = figure(frame_width=763, frame_height=774, x_range=Range1d(left, left+763), y_range=Range1d(top+774, top), output_backend="svg", toolbar_location=None,
               min_border=0, x_axis_location=None, y_axis_location=None, background_fill_alpha=0, border_fill_alpha=0, frame_align=False,
               outline_line_color=None, styles={"position":"absolute","left":f"{left}px","top":f"{top}px"})
    o.grid.visible = False
    figs.append(o)
    return o

ov_letters = overlay(0, 0)
ov_low = overlay(0, 16)
ov = overlay(8, 8)

def T(x, y, s, size=8.5, angle=0, align="left", color="#262626", bold=False, base="middle", target=None):
    (target or ov).add_layout(Label(x=x, y=y, text=s, text_font=FONT, text_font_size=f"{size}px", text_color=color, angle=angle,
                        text_align=align, text_baseline=base, text_font_style="bold" if bold else "normal"))

def TT(x, y, s, dx, dy, **kw):
    T(x, y, s, **kw); T(x+dx, y+dy, s, **kw)

for s, x, y, dx, dy in [("A",2,8,1,2),("B",253,7,0,0),("C",433,7,1,2),("D",1,192,0,1),("E",252,192,0,1),("F",558,192,0,0),("G",252,375,1,0),("H",1,650,5,3),("I",602,650,0,0)]:
    TT(x, y, s, dx, dy, size=13.5, bold=True, color="#000000", target=ov_letters)

up = math.pi/2
diag = math.pi/4
for x, y, s, size in rotated:
    T(x, y, s, size=size, angle=diag, align="right", target=ov_low if (y > 700 and x < 530) else ov)

T(18, 78, "UMAP_2", size=10.4, angle=up, align="center")
T(112, 163, "UMAP_1", size=10.4, align="center")
T(440, 88, "UMAP_2", size=10.4, angle=up, align="center")
T(592, 163, "UMAP_1", size=10.4, align="center")
T(256, 80, "Proportion of cells", size=10.4, angle=up, align="center")
T(328, 163, "Population", size=10.4, align="center")
TT(298.5, 150, "17TIL_Tet+", 2, 4, align="center")
TT(352.5, 150, "135TIL_Tet+", 2, 4, align="center")
TT(529, 22, "17TIL_tetPos.", 3, 2, size=9.5, align="center")
TT(665, 22, "135TIL_tetPos.", 3, 2, size=9.5, align="center")

title = "Neoantigen clusters (NC)"
TT(192.5, 80, title, 4.5, 0, size=9.5, angle=up, align="center")
TT(376, 80, title, 4.5, 0, size=9.5, angle=up, align="center")
TT(732, 377, title, 4.5, 0, size=9.5, angle=up, align="center")
ov.segment([190, 371, 722, 722, 726], [20, 22, 193, 240, 313], [190, 371, 722, 722, 726], [145, 143, 233, 559, 457], line_color="#444444", line_width=0.8)
ov.segment([290], [587.5], [413], [587.5], line_color="#666666", line_width=0.8)

# legends
for i, (n, c) in enumerate(zip(NC_NAMES, NC_COLORS)):
    y = 50 + 10.4*i
    ov.scatter([204], [y], size=5.5, color=c, line_color=None)
    T(210, y, n, size=8.8)
    ov.quad(left=[386.5], right=[392], top=[y-2.7-1.2], bottom=[y+2.7-1.2], color=c, line_color=None)
    T(395, y-1.2, n, size=8.8)
    fy = 345 + 10.45*i
    ov.quad(left=[743], right=[748], top=[fy-2.7], bottom=[fy+2.7], color=c, line_color=None)
    T(751, fy, n, size=8.8)
for i, (n, c) in enumerate(zip(CLONES, CLONE_COLORS)):
    y = 48 + 10.8*i
    ov.scatter([735], [y], size=5.5, color=c, line_color=None)
    T(742, y, n, size=8.8)

# panel F side texts
T(564, 376, "Tetramer\u2212enriched clone", size=10, angle=up, align="center")
T(656, 580, "Proportion of cells", size=10, align="center")
TT(717, 213, "135TIL", 2, 0, size=8.5, angle=up, align="center")
TT(717, 402, "17TIL", 2, 0, size=8.5, angle=up, align="center")

# panel E second copies
for i, s in enumerate(E_SETS):
    T(396.5, 215 + 12*i + 4.5, s, size=9)

# panel G texts
T(258, 425, "Activation score", size=10, angle=up, align="center")
T(258, 548, "Activation score", size=10, angle=up, align="center")
TT(415, 388, "17TIL", 2, 2, size=9.5, align="center")
TT(351, 511, "135TIL", 2, 2, size=9.5, align="center")
for i, (a, b) in enumerate(zip(G1_NAMES, G1_COUNTS)):
    x = 300 + 22.5*i
    TT(x+1, 464, a, 1, 2, size=8.5, angle=diag, align="right", base="top")
    TT(x+6, 468, b, 1, 2, size=8.5, angle=diag, align="right", base="top")
for i, (a, b) in enumerate(zip(G2_NAMES, G2_COUNTS)):
    x = 301 + 23.4*i
    TT(x+1, 587, a, 1, 2, size=8.5, angle=diag, align="right", base="top")
    TT(x+6, 591, b, 1, 2, size=8.5, angle=diag, align="right", base="top")

page = column(*figs, width=763, height=774, sizing_mode="fixed", styles={"position":"relative"})
open("out.html", "w").write(file_html(page, INLINE))
